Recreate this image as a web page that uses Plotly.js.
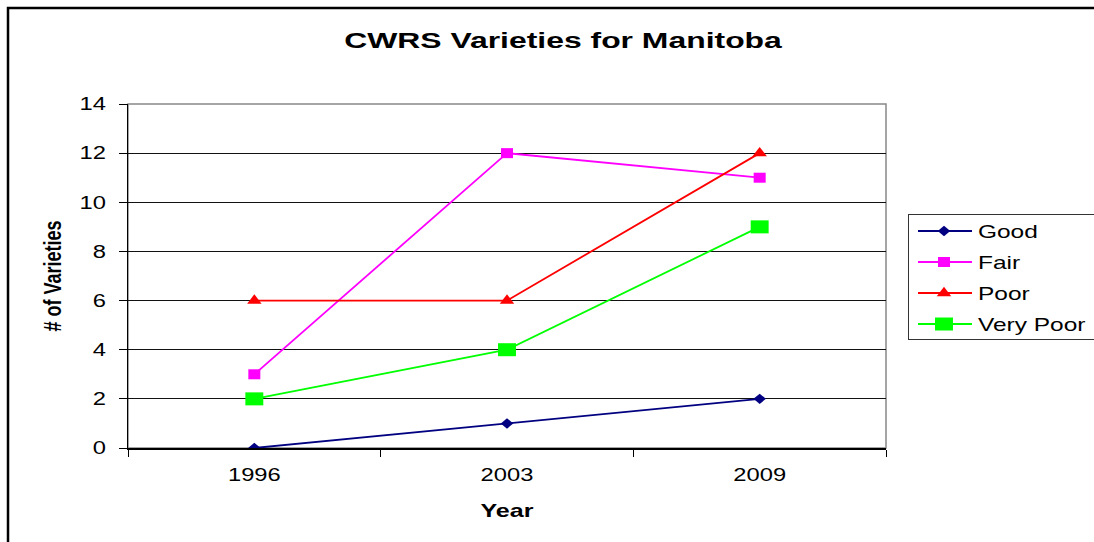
<!DOCTYPE html>
<html>
<head>
<meta charset="utf-8">
<script src="https://cdn.plot.ly/plotly-3.0.1.min.js"></script>
<style>
html,body{margin:0;padding:0;background:#fff;}
#chart{width:1094px;height:542px;}
</style>
</head>
<body>
<div id="chart"></div>
<script>
const years = ["1996", "2003", "2009"];
const good = [0, 1, 2];
const fair = [3, 12, 11];
const poor = [6, 6, 12];
const veryPoor = [2, 4, 9];
const yTicks = [0, 2, 4, 6, 8, 10, 12, 14];

const traces = [
  {name: "Good", x: years, y: good, type: "scatter", mode: "lines+markers",
   line: {color: "#000080", width: 1.8}, marker: {symbol: "diamond", size: 8, color: "#000080"}},
  {name: "Fair", x: years, y: fair, type: "scatter", mode: "lines+markers",
   line: {color: "#FF00FF", width: 1.8}, marker: {symbol: "square", size: 10, color: "#FF00FF"}},
  {name: "Poor", x: years, y: poor, type: "scatter", mode: "lines+markers",
   line: {color: "#FF0000", width: 1.8}, marker: {symbol: "triangle-up", size: 12.5, color: "#FF0000"}},
  {name: "Very Poor", x: years, y: veryPoor, type: "scatter", mode: "lines+markers",
   line: {color: "#00FF00", width: 1.8}, marker: {symbol: "square", size: 13, color: "#00FF00"}}
];
const markerStretch = [1.2, 1.2, 1.0, 1.38];

const FONT = "Liberation Sans, Arial, sans-serif";
const layout = {
  width: 1094, height: 542,
  margin: {l: 128, r: 208, t: 104, b: 94},
  paper_bgcolor: "#fff", plot_bgcolor: "#fff",
  font: {family: FONT, color: "#000", size: 18},
  title: {text: "<b>CWRS Varieties for Manitoba</b>", x: 0.5739, xref: "paper", xanchor: "center",
          y: 0.925, yanchor: "middle", font: {size: 22, family: FONT}},
  xaxis: {type: "category", tickson: "boundaries", ticks: "outside", ticklen: 7, tickcolor: "#000",
          showline: true, linecolor: "#000", linewidth: 1.5, showgrid: false, zeroline: false,
          range: [-0.5, 2.5], tickfont: {size: 18}, ticklabelstandoff: 10,
          title: {text: "<b>Year</b>", font: {size: 19}, standoff: 19}},
  yaxis: {range: [0, 14], tickvals: yTicks, ticks: "outside", ticklen: 8, tickcolor: "#000",
          showline: true, linecolor: "#000", linewidth: 1.5, showgrid: true, gridcolor: "#111",
          gridwidth: 1, zeroline: false, tickfont: {size: 18}, ticklabelstandoff: 9, fixedrange: true,
          title: {text: "<b># of Varieties</b>", font: {size: 18}, standoff: 19}},
  legend: {x: 1.02902, xanchor: "left", y: 0.6802, yanchor: "top", bordercolor: "#333", borderwidth: 1,
           font: {size: 18}, tracegroupgap: 0},
  shapes: [
    {type: "rect", xref: "paper", yref: "paper", x0: 0, x1: 1, y0: 0, y1: 1,
     line: {color: "#888", width: 1.5}, layer: "below"},
    {type: "rect", xref: "paper", yref: "paper", x0: -0.1583, x1: 1.29, y0: -0.30, y1: 1.279,
     line: {color: "#000", width: 2.5}, layer: "below"}
  ],
  showlegend: true
};

function stretchText(sel, s) {
  document.querySelectorAll(sel).forEach(t => {
    const x = parseFloat(t.getAttribute("x")) || 0;
    const tr = t.getAttribute("transform") || "";
    t.setAttribute("transform", tr + " translate(" + x + ",0) scale(" + s + ",1) translate(" + (-x) + ",0)");
  });
}
function stretchOuter(sel, s) {
  document.querySelectorAll(sel).forEach(t => {
    const x = parseFloat(t.getAttribute("x")) || 0;
    const tr = t.getAttribute("transform") || "";
    t.setAttribute("transform", "translate(" + x + ",0) scale(" + s + ",1) translate(" + (-x) + ",0) " + tr);
  });
}

Plotly.newPlot("chart", traces, layout, {staticPlot: true}).then(() => {
  const root = document.getElementById("chart");
  stretchText("#chart .gtitle", 1.45);
  stretchText("#chart .xtick text", 1.32);
  stretchText("#chart .ytick text", 1.32);
  stretchText("#chart .xtitle", 1.32);
  stretchOuter("#chart .ytitle", 1.36);
  // widen markers horizontally like the original
  root.querySelectorAll(".scatterlayer .trace").forEach((g, i) => {
    const s = markerStretch[i] || 1;
    g.querySelectorAll("path.point").forEach(p => {
      p.setAttribute("transform", (p.getAttribute("transform") || "") + " scale(" + s + ",1)");
    });
  });
  // legend layout
  const leg = root.querySelector(".legend");
  if (leg) {
    const sb = leg.querySelector(".scrollbox");
    if (sb) { sb.removeAttribute("clip-path"); sb.setAttribute("transform", ""); }
    leg.querySelectorAll(".groups").forEach(g => g.setAttribute("transform", ""));
    const bg = leg.querySelector("rect.bg");
    if (bg) { bg.setAttribute("width", 240); bg.setAttribute("height", 125); }
    leg.querySelectorAll(".traces").forEach((tr, i) => {
      const s = markerStretch[i] || 1;
      tr.setAttribute("transform", "translate(0," + (17 + 31 * i) + ")");
      tr.querySelectorAll(".legendlines path").forEach(p => p.setAttribute("d", "M10,0h54"));
      tr.querySelectorAll(".legendpoints path").forEach(p => p.setAttribute("transform", "translate(36,0) scale(" + s + ",1)"));
      const txt = tr.querySelector(".legendtext");
      if (txt) { txt.setAttribute("x", 70); }
      const tog = tr.querySelector(".legendtoggle");
      if (tog) tog.remove();
    });
    stretchText("#chart .legendtext", 1.36);
  }
});
</script>
</body>
</html>
